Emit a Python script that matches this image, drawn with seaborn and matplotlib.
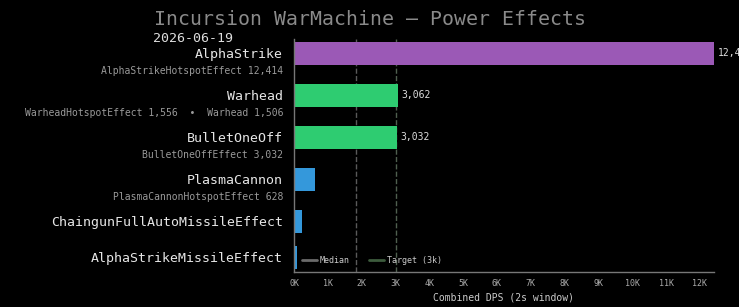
import numpy as np
import pandas as pd
import seaborn as sns
import matplotlib.pyplot as plt
from matplotlib.lines import Line2D

# data
names = ["AlphaStrike", "Warhead", "BulletOneOff", "PlasmaCannon",
         "ChaingunFullAutoMissileEffect", "AlphaStrikeMissileEffect"]
dps = [12414, 3062, 3032, 628, 235, 95]
sublabels = ["AlphaStrikeHotspotEffect 12,414",
             "WarheadHotspotEffect 1,556  \u2022  Warhead 1,506",
             "BulletOneOffEffect 3,032",
             "PlasmaCannonHotspotEffect 628",
             "", ""]
colors = ["#9b59b6", "#2ecc71", "#2ecc71", "#3498db", "#3498db", "#3498db"]
target = 3000
xticks = list(range(0, 13000, 1000))
xticklabels = [f"{t // 1000}K" for t in xticks]

median = float(np.median(dps))

# rows with a sub label get a bit more room
ypos = []
y = 0.0
for s in sublabels:
    ypos.append(y)
    y += 1.167 if s else 1.0

df = pd.DataFrame({"name": names, "dps": dps, "y": ypos})

sns.set_style("dark")
plt.rcParams["font.family"] = ["DejaVu Sans Mono"]
bg = "#000000"

fig = plt.figure(figsize=(7.39, 3.07), dpi=100, facecolor=bg)
ax = fig.add_axes([0.398, 0.114, 0.568, 0.760])
ax.set_facecolor(bg)

ax.axvline(median, color="#5a5a5a", ls="--", lw=1, zorder=0)
ax.axvline(target, color="#4f5f4f", ls="--", lw=1, zorder=0)

sns.barplot(data=df, x="dps", y="y", hue="name", palette=dict(zip(names, colors)),
            orient="y", native_scale=True, width=0.63, legend=False,
            saturation=1, linewidth=0, ax=ax, zorder=2)

ax.set_ylim(ypos[-1] + 0.41, -0.41)
ax.set_xlim(0, max(dps))
ax.set_yticks(ypos)
ax.set_yticklabels(names, fontsize=9.5, color="#e6e6e6")
ax.tick_params(axis="y", length=0, pad=8)
ax.set_xticks(xticks)
ax.set_xticklabels(xticklabels, fontsize=6, color="#aaaaaa")
ax.tick_params(axis="x", length=3, color="#777777", pad=2)
ax.set_xlabel("Combined DPS (2s window)", fontsize=7, color="#cccccc", labelpad=3)
ax.set_ylabel("")
ax.grid(False)
for side in ["top", "right"]:
    ax.spines[side].set_visible(False)
for side in ["left", "bottom"]:
    ax.spines[side].set_visible(True)
    ax.spines[side].set_color("#777777")
    ax.spines[side].set_linewidth(1)

for yy, s in zip(ypos, sublabels):
    if s:
        ax.annotate(s, xy=(0, yy + 0.49), xycoords=("axes fraction", "data"),
                    xytext=(-8, 0), textcoords="offset points",
                    ha="right", va="center", fontsize=7, color="#9a9a9a")

for yy, v in zip(ypos, dps):
    if v >= 1000:
        ax.annotate(f"{v:,}", xy=(v, yy), xytext=(3, 0), textcoords="offset points",
                    ha="left", va="center", fontsize=7, color="#dddddd",
                    annotation_clip=False)

handles = [Line2D([], [], color="#6a6a6a", lw=2),
           Line2D([], [], color="#3d5c3d", lw=2)]
ax.legend(handles, ["Median", "Target (3k)"], loc="lower left",
          bbox_to_anchor=(0.0, 0.0), ncol=2, frameon=False, fontsize=6,
          labelcolor="#cccccc", handlelength=1.8, handletextpad=0.4,
          columnspacing=2.3)

fig.text(0.5, 0.935, "Incursion WarMachine \u2014 Power Effects", ha="center",
         va="center", fontsize=14.3, color="#8a8a8a")
fig.text(153 / 739, 0.876, "2026-06-19", ha="left", va="center",
         fontsize=9.5, color="#dddddd")

fig.savefig("out.png", dpi=100, facecolor=bg)
